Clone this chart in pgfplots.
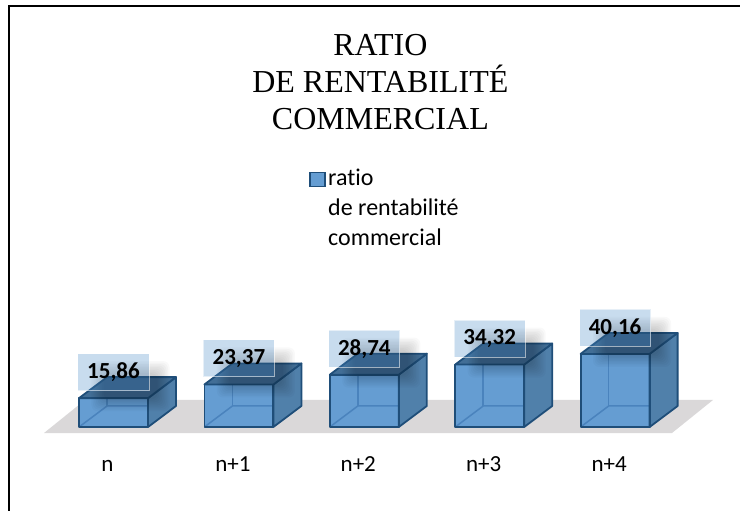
\documentclass[border=0pt]{standalone}
\usepackage{pgfplots}
\usepackage{pgfplotstable}
\usepackage{fontspec}
\setmainfont[Ligatures=NoCommon]{Carlito}
\newfontfamily\titlefont{Liberation Serif}
\pgfplotsset{compat=1.18}
\definecolor{cfront}{RGB}{101,157,210}
\definecolor{cside}{RGB}{80,128,170}
\definecolor{ctop}{RGB}{66,110,150}
\definecolor{cedge}{RGB}{31,78,121}
\definecolor{chid}{RGB}{74,131,189}
\definecolor{cfloor}{RGB}{218,216,217}
\definecolor{clabel}{RGB}{73,138,198}
\pgfplotstableread{
i v
0 15.86
1 23.37
2 28.74
3 34.32
4 40.16
}\ratiodata
\begin{document}
\begin{tikzpicture}
\path[use as bounding box] (0,0) rectangle (740pt,511pt);
\begin{axis}[
  at={(0,0)}, anchor=south west,
  width=740pt, height=511pt, scale only axis,
  xmin=-0.9051, xmax=4.9960, ymin=-46.15, ymax=234.62,
  clip=false,
  axis line style={draw=none},
  tick style={draw=none},
  ytick=\empty,
  xtick={0,1,2,3,4},
  xticklabels={n,n+1,n+2,n+3,n+4},
  x tick label style={anchor=center, xshift=-6pt, yshift=47pt, text height=15pt, text depth=0pt,
    font=\fontsize{23}{27}\selectfont},
  title={RATIO\\DE RENTABILITÉ\\COMMERCIAL},
  title style={at={(rel axis cs:0.514,0.8395)}, anchor=center, align=center, yshift=-6pt,
    font=\titlefont\fontsize{32}{37}\selectfont},
  legend style={at={(rel axis cs:0.4176,0.6687)}, anchor=north west, draw=none, fill=none,
    font=\fontsize{24}{27}\selectfont, row sep=8pt, inner sep=0pt,
    nodes={inner ysep=1pt, inner xsep=2.5pt, text height=15pt, text depth=5pt}},
  legend cell align=left,
]
% floor
\addplot[fill=cfloor, draw=none, forget plot] coordinates {(-0.5542,-3.30) (4.4537,-3.30) (4.7807,14.84) (-0.2273,14.84)} --cycle;
% cuboids
\pgfplotsforeachungrouped \k in {0,1,2,3,4}{
  \pgfplotstablegetelem{\k}{v}\of\ratiodata
  \let\val\pgfplotsretval
  \pgfmathsetmacro\L{\k-0.2751}
  \pgfmathsetmacro\R{\k+0.2751}
  \pgfmathsetmacro\LB{\L+0.2233}
  \pgfmathsetmacro\RB{\R+0.2233}
  \pgfmathsetmacro\TB{\val+11.54}
  \addplot[fill=cfront, draw=none, forget plot] coordinates {(\L,0) (\R,0) (\R,\val) (\L,\val)} --cycle;
  \addplot[chid, line width=1.5pt, forget plot] coordinates {(\L,0) (\LB,11.54) (\RB,11.54)};
  \addplot[chid, line width=1.5pt, forget plot] coordinates {(\LB,11.54) (\LB,\TB)};
  \addplot[fill=cside, draw=cedge, line width=1.8pt, line join=round, forget plot] coordinates {(\R,0) (\RB,11.54) (\RB,\TB) (\R,\val)} --cycle;
  \addplot[fill=ctop, draw=cedge, line width=1.8pt, line join=round, forget plot] coordinates {(\L,\val) (\R,\val) (\RB,\TB) (\LB,\TB)} --cycle;
  \addplot[draw=cedge, line width=1.8pt, line join=round, forget plot] coordinates {(\L,0) (\R,0) (\R,\val) (\L,\val)} --cycle;
}
% soft shadows of the labels
\pgfplotsinvokeforeach{0,3,6,9,12,15,18,21,24}{
  \addplot[draw=none, forget plot, nodes near coords={},
    every node near coord/.append style={anchor=center, inner sep=0pt, xshift=17pt, yshift=12pt,
      minimum width={(78-#1)*1pt}, minimum height={(50-#1)*1pt}, fill=black, fill opacity=0.022, draw=none, rounded corners=6pt}]
    table[x=i, y=v] {\ratiodata};
}
% labels
\addplot[draw=none, forget plot, nodes near coords,
  every node near coord/.append style={
    /pgf/number format/assume math mode=true,
    /pgf/number format/fixed, /pgf/number format/fixed zerofill,
    /pgf/number format/precision=2, /pgf/number format/use comma,
    anchor=center, inner sep=0pt, yshift=26pt,
    minimum width=71pt, minimum height=37pt,
    fill=clabel, fill opacity=0.3, text opacity=1, draw=white, draw opacity=0.55, line width=1pt,
    text=black, font=\fontsize{23}{27}\selectfont\bfseries}]
  table[x=i, y=v] {\ratiodata};
% legend
\addlegendimage{legend image code/.code={\draw[fill=cfront, draw=cedge, line width=1.5pt] (0pt,-6pt) rectangle (15pt,8pt);}}
\addlegendentry{ratio}
\addlegendimage{empty legend}
\addlegendentry{de rentabilité}
\addlegendimage{empty legend}
\addlegendentry{commercial}
% frame of the sheet
\draw[black, line width=2pt] (rel axis cs:0.01284,0) -- (rel axis cs:0.01284,0.98826) -- (rel axis cs:1,0.98826);
\end{axis}
\end{tikzpicture}
\end{document}
